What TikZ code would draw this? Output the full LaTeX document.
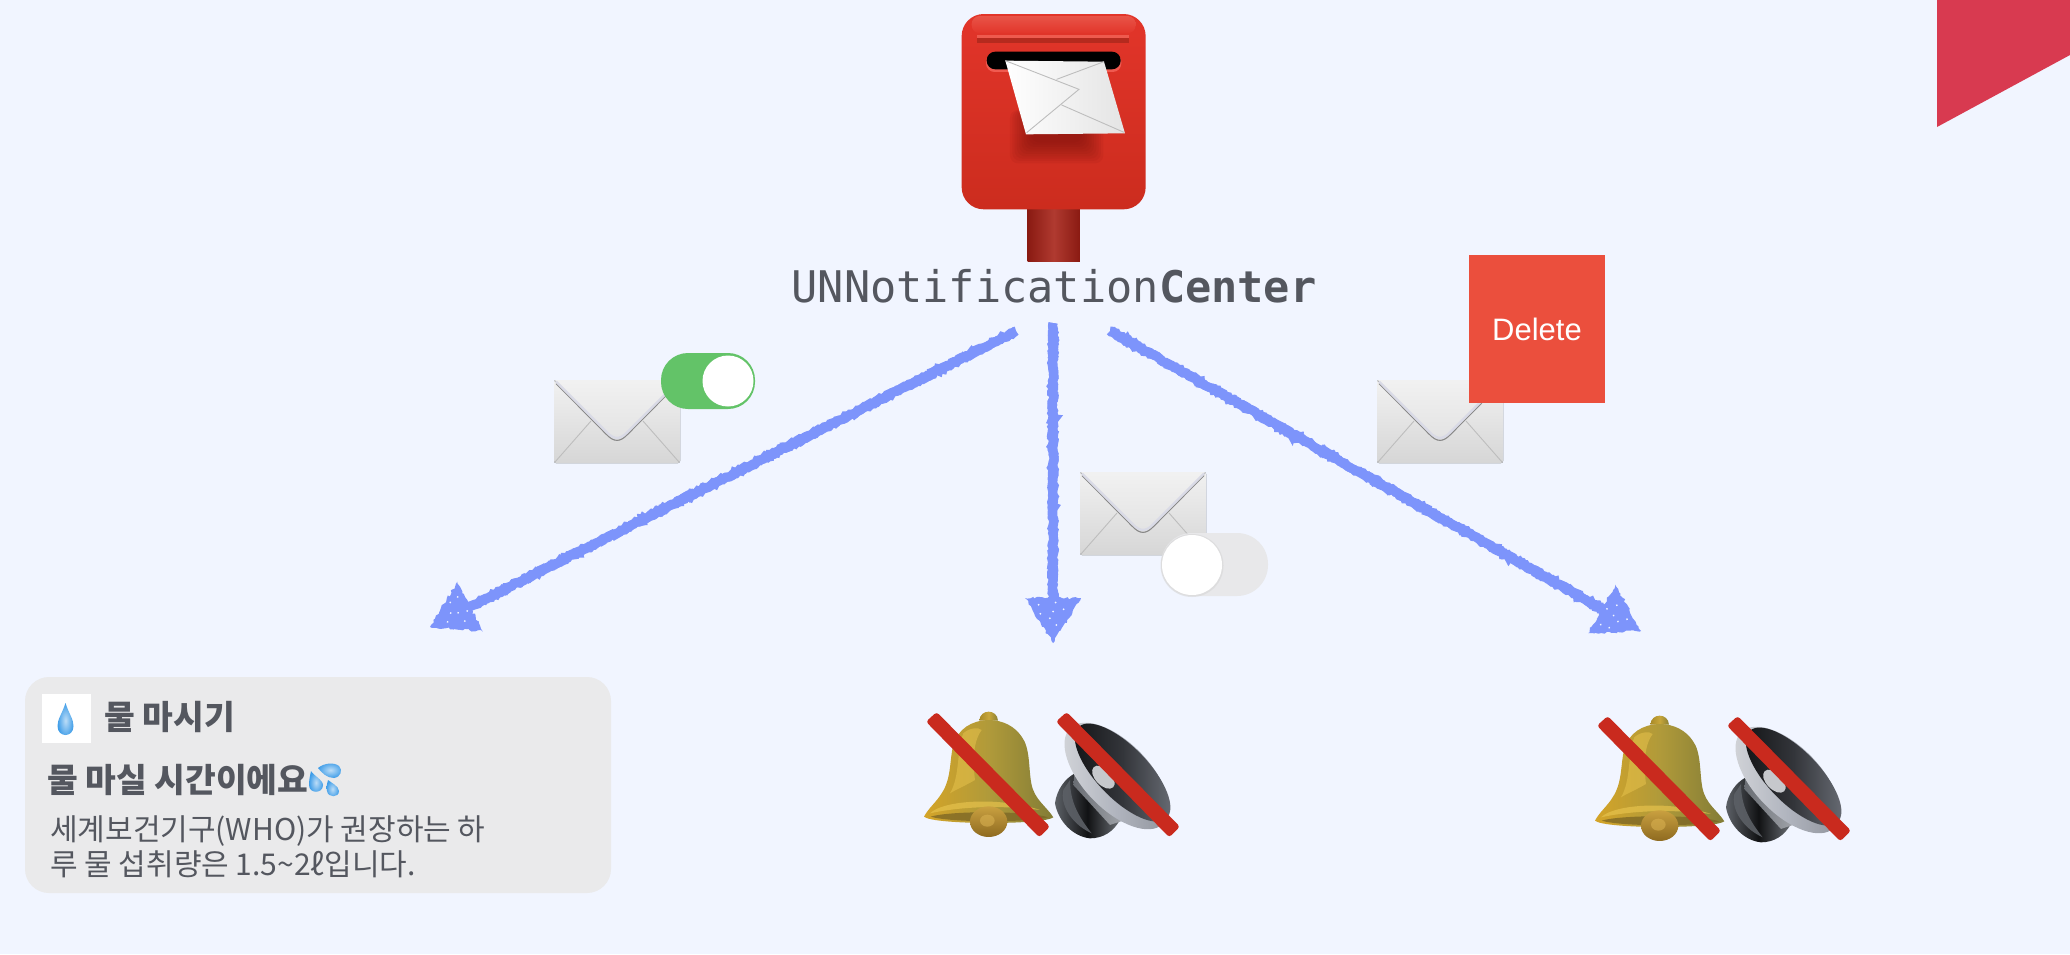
\documentclass[tikz,border=0pt]{standalone}
\usepackage{fontspec}
\setmainfont{Liberation Sans}
\newfontfamily\cjkfont{Noto Sans CJK KR}
\newfontfamily\codefont{DejaVu Sans Mono}
\usetikzlibrary{calc,decorations.pathmorphing}
\definecolor{pagebg}{HTML}{F1F5FF}
\definecolor{inkgray}{HTML}{54575F}
\definecolor{sketchblue}{HTML}{7D94FB}
\definecolor{cardgray}{HTML}{EAEAEB}
\definecolor{banner}{HTML}{D83A50}
\definecolor{delred}{HTML}{EB4F3D}
\definecolor{slashred}{HTML}{C92A1E}
\definecolor{toggreen}{HTML}{63C368}
\definecolor{togoff}{HTML}{E8E8EA}
% grey levels used in the envelopes
\definecolor{F0}{HTML}{F1F1F1}
\definecolor{E3}{HTML}{E3E3E3}
\definecolor{D6}{HTML}{D6D6D6}
\definecolor{DB}{HTML}{D9DAE6}
\definecolor{C2}{HTML}{BDBDBD}
\definecolor{G88}{HTML}{888888}
% bell
\definecolor{bellHi}{HTML}{E6C24C}
\definecolor{bellIn}{HTML}{7A6424}
\definecolor{clapA}{HTML}{C9A040}
\definecolor{clapB}{HTML}{8E6A20}
\definecolor{clapC}{HTML}{D8B050}
\definecolor{knobA}{HTML}{A88A28}
\definecolor{knobB}{HTML}{8A8034}
\definecolor{knobC}{HTML}{C8A63A}
\definecolor{bellA}{HTML}{D4A428}
\definecolor{bellB}{HTML}{827C36}
\definecolor{bellC}{HTML}{B09A3A}
% speaker
\definecolor{spkB}{HTML}{111214}
\definecolor{spkC}{HTML}{5C6066}
\definecolor{spkD}{HTML}{6A6E74}
\definecolor{spkE}{HTML}{A8ABB1}
\definecolor{rimA}{HTML}{D4D6DA}
\definecolor{rimB}{HTML}{B0B4BE}
\definecolor{rimC}{HTML}{8C9098}
\definecolor{coneA}{HTML}{111214}
\definecolor{coneB}{HTML}{6C7078}
\definecolor{coneC}{HTML}{33353A}
\definecolor{domeA}{HTML}{C6C8CC}
\definecolor{waterA}{HTML}{3F9DE8}
% mailbox
\definecolor{postA}{HTML}{8A1A12}
\definecolor{postB}{HTML}{B03A30}
\definecolor{boxA}{HTML}{E2352A}
\definecolor{boxB}{HTML}{CC2C1E}
\definecolor{boxC}{HTML}{E85448}
\definecolor{boxD}{HTML}{E2352A}
\definecolor{stripA}{HTML}{B52A1E}
\definecolor{stripB}{HTML}{EE5A4E}
\definecolor{shadeA}{HTML}{6A0E08}
\definecolor{slotA}{HTML}{F05A50}
\definecolor{paperB}{HTML}{E4E4E4}
\tikzset{
  zoomed/.style={x=0.3333pt,y=-0.3333pt},
  roughA/.style={decorate,decoration={random steps,segment length=2.5pt,amplitude=1.3pt}},
  shaft/.style={draw=sketchblue,line width=9pt,roughA},
  knob/.style={fill=white},
  slashfill/.style={fill=slashred,rounded corners=3pt},
  waterdrop/.style={inner color=waterA!35!white,outer color=waterA},
  pics/envelope/.style={code={
    \fill[rounded corners=2pt,top color=F0,bottom color=D6] (0,0) rectangle (126,83);
    \draw[line width=.9pt,color=C2] (1,82)--(37,41) (125,82)--(89,41);
    \fill[top color=F0,bottom color=E3] (1,1)--(52,52) .. controls (60,60) and (66,60) .. (74,52)--(125,1)--cycle;
    \draw[line width=1.1pt,color=G88] (2,3.5)--(52,54) .. controls (60,62.5) and (66,62.5) .. (74,54)--(124,3.5);
    \draw[line width=2.2pt,color=DB] (2,1.5)--(52,51.5) .. controls (60,60) and (66,60) .. (74,51.5)--(124,1.5);
  }},
  pics/bellspeaker/.style={code={
    \begin{scope}[zoomed]
      % bell
      \path[left color=knobA,right color=knobB,middle color=knobC] (238,92) .. controls (240,56) and (292,56) .. (294,92) -- cycle;
      \path[left color=bellA,right color=bellB,middle color=bellC]
        (265,90) .. controls (215,92) and (175,115) .. (160,165)
        .. controls (148,210) and (155,265) .. (125,310)
        .. controls (110,335) and (85,355) .. (72,380)
        .. controls (100,405) and (430,405) .. (460,382)
        .. controls (440,350) and (405,330) .. (395,285)
        .. controls (385,240) and (392,175) .. (365,140)
        .. controls (345,110) and (310,90) .. (265,90) -- cycle;
      \fill[bellHi,opacity=.55] (190,130) .. controls (205,115) and (235,110) .. (245,120) .. controls (215,160) and (220,230) .. (225,270) .. controls (190,290) and (165,300) .. (150,310) .. controls (180,260) and (170,180) .. (190,130) -- cycle;
      \fill[bellHi,opacity=.7] (90,370) .. controls (130,330) and (300,320) .. (420,360) .. controls (300,345) and (180,350) .. (90,370) -- cycle;
      \fill[bellIn,opacity=.75] (92,380) .. controls (150,362) and (380,362) .. (445,382) .. controls (380,398) and (150,398) .. (92,380) -- cycle;
      \path[top color=clapA,bottom color=clapB] (266,395) ellipse (56 and 46);
      \fill[clapC,opacity=.6] (262,392) ellipse (22 and 18);
      \fill[slashfill] (78,95)--(110,66)--(450,410)--(418,442)--cycle;
      % speaker
      \path[left color=spkC,right color=spkD,middle color=spkB]
        (465,340) .. controls (470,300) and (495,265) .. (525,250) -- (660,390)
        .. controls (640,425) and (610,445) .. (570,445) .. controls (520,440) and (475,395) .. (465,340) -- cycle;
      \fill[spkC,opacity=.9] (490,300) .. controls (480,340) and (510,400) .. (575,430) .. controls (540,385) and (510,340) .. (510,270) -- cycle;
      \path[left color=spkD,right color=spkE] (525,235) -- (690,385) -- (630,405) -- (520,285) -- cycle;
      \begin{scope}[rotate around={-46:(650,258)}]
        \path[left color=rimA,right color=rimC,middle color=rimB] (650,258) ellipse (200 and 100);
        \path[left color=coneA,right color=coneB,middle color=coneC] (655,238) ellipse (190 and 78);
        \fill[domeA] (625,289) ellipse (42 and 24);
      \end{scope}
      \fill[slashfill,xshift=390*0.3333pt] (78,95)--(110,66)--(450,410)--(418,442)--cycle;
    \end{scope}
  }},
  pics/rhead/.style={code={
    \fill[sketchblue,roughA] (0,0)--(-45,28)--(-45,-28)--cycle;
    \foreach \u/\v in {.75/.25,.55/.6,.85/.8,.4/.35,.9/.45,.65/.85,.7/.5} {
      \fill[pagebg] ({-45*\u},{28*\u*(2*\v-1)}) circle (1pt);
    }
  }},
}
\begin{document}
\begin{tikzpicture}[x=1pt,y=-1pt]
\pgfmathsetseed{7}
\useasboundingbox (0,0) rectangle (2070,954);
\fill[pagebg] (0,0) rectangle (2070,954);
% corner banner
\fill[banner] (1937,0)--(2070,0)--(2070,55)--(1937,127)--cycle;
% mailbox
\begin{scope}[shift={(900,0)},zoomed]
  \path[left color=postA,right color=postA,middle color=postB] (383,620) rectangle (540,785);
  \path[rounded corners=22pt,top color=boxA,bottom color=boxB] (185,42) rectangle (737,628);
  \path[rounded corners=8pt,top color=boxC,bottom color=boxD] (215,48) rectangle (707,100);
  \fill[stripA] (232,114) rectangle (688,128);
  \fill[stripB] (232,104) rectangle (688,114);
  \foreach \k in {0,...,9} {
    \fill[shadeA,opacity=.07,rounded corners=8pt] (330+\k*7,330) rectangle (610-\k*7,490-\k*7);
  }
  \fill[slotA,rounded corners=8.6pt] (258,160) rectangle (664,216);
  \fill[black,rounded corners=8.6pt] (260,155) rectangle (662,208);
  \path[left color=white,right color=paperB] (316,182)--(612,185)--(675,400)--(378,403)--cycle;
  \draw[C2,line width=.9pt] (316,182)--(537,268)--(380,398) (612,185)--(470,238) (485,315)--(672,397);
\end{scope}
\node[anchor=base,inner sep=0pt,text=inkgray,font=\fontsize{43.6pt}{44pt}\codefont] (unc) at (1054,302) {UNNotification\textbf{Center}};
% connector end points
\coordinate (s1) at (1016,331);
\coordinate (t1) at (430,627);
\coordinate (s2) at (1053,323);
\coordinate (t2) at (1053,643);
\coordinate (s3) at (1110,331);
\coordinate (t3) at (1641,631);
\foreach \a in {1,2,3} {
  \draw[shaft] (s\a) -- ($(t\a)!40pt!(s\a)$);
  \draw[shaft] (s\a) -- ($(t\a)!40pt!(s\a)$);
}
\pic[rotate=206.9] at (t1) {rhead};
\pic[rotate=-90] at (t2) {rhead};
\pic[rotate=-29.5] at (t3) {rhead};
% envelope + toggle on
\pic at (554,380) {envelope};
\fill[toggreen,rounded corners=27pt] (661,353) rectangle (755,409);
\fill[knob] (728,381) circle (25.5pt);
% envelope + toggle off
\pic at (1080,472) {envelope};
\fill[togoff,rounded corners=31pt] (1161,533) rectangle (1268,596);
\fill[D6,opacity=.6] (1192,565.5) circle (31.5pt);
\fill[knob] (1192,565) circle (30pt);
% envelope + delete
\pic at (1377,380) {envelope};
\node[fill=delred,minimum width=136pt,minimum height=148pt,inner sep=0pt,text=white,font=\fontsize{31pt}{32pt}\selectfont] (del) at (1537,329) {Delete};
% notification card
\node[fill=cardgray,rounded corners=24pt,minimum width=586pt,minimum height=216pt,inner sep=0pt] (card) at (318,785) {};
\fill[white] (42,694) rectangle (91,743);
\path[waterdrop] (65.5,703) .. controls (69,714) and (73.5,719) .. (73.5,726) .. controls (73.5,738) and (57.5,738) .. (57.5,726) .. controls (57.5,719) and (62,714) .. (65.5,703) -- cycle;
\node[anchor=base west,inner sep=0pt,text=inkgray,font=\fontsize{33.4pt}{34pt}\cjkfont\bfseries] (apptitle) at (104,729) {물 마시기};
\node[anchor=base west,inner sep=0pt,text=inkgray,font=\fontsize{33.4pt}{34pt}\cjkfont\bfseries] (msgtitle) at (47,792) {물 마실 시간이에요};
\path[waterdrop] (318,768) .. controls (324,763) and (334,762) .. (339,766) .. controls (343,770) and (341,777) .. (334,778) .. controls (327,778) and (322,773) .. (318,768) -- cycle;
\path[waterdrop] (311,771) .. controls (313,775) and (323,780) .. (323,785) .. controls (323,794) and (309,794) .. (309,785) .. controls (309,780) and (310,776) .. (311,771) -- cycle;
\path[waterdrop] (328,780) .. controls (330,782) and (339,786) .. (339,791) .. controls (339,798) and (328,798) .. (327,791) .. controls (326,787) and (327,784) .. (328,780) -- cycle;
\node[anchor=base west,inner sep=0pt,text=inkgray,font=\fontsize{30pt}{31pt}\cjkfont] (body1) at (50,840) {세계보건기구(WHO)가 권장하는 하};
\node[anchor=base west,inner sep=0pt,text=inkgray,font=\fontsize{30pt}{31pt}\cjkfont] (body2) at (50,875) {루 물 섭취량은 1.5{\char"7E}2ℓ입니다.};
% muted bells and speakers
\pic at (900,690) {bellspeaker};
\pic at (1571,694) {bellspeaker};
\end{tikzpicture}
\end{document}
